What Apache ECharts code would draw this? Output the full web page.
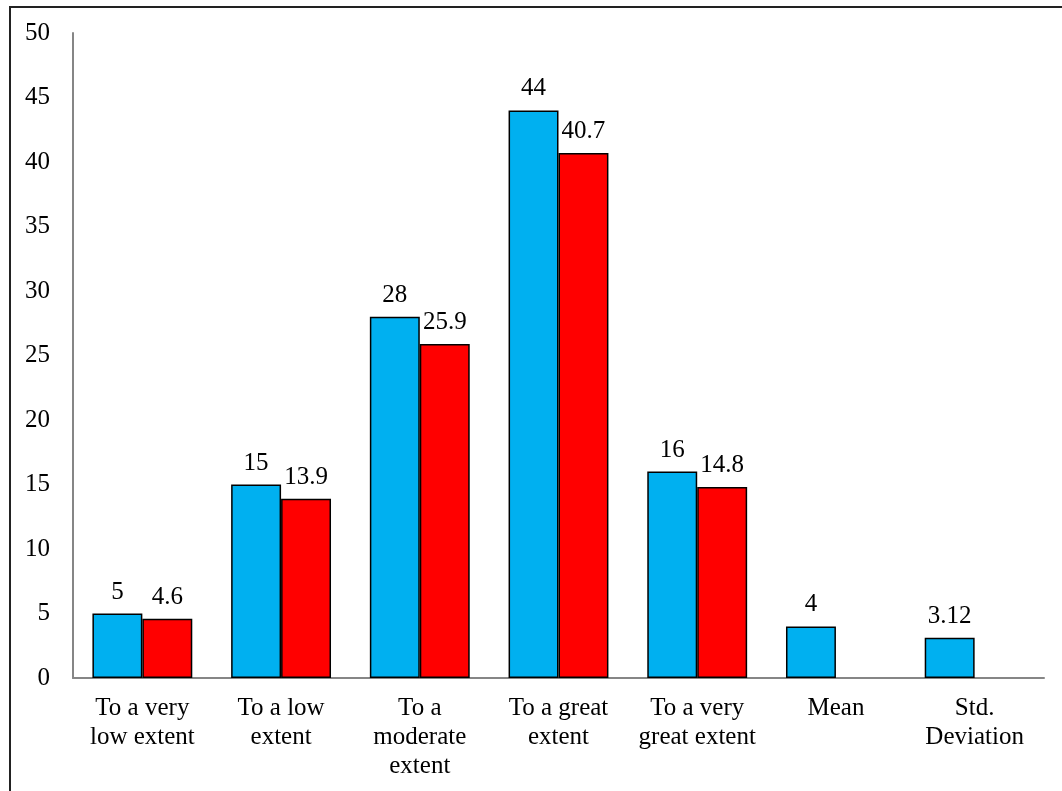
<!DOCTYPE html>
<html>
<head>
<meta charset="utf-8">
<title>Extent of responses</title>
<script src="https://cdn.jsdelivr.net/npm/echarts@6/dist/echarts.min.js"></script>
<style>
  html, body { margin: 0; padding: 0; background: #fff; }
  #chart { width: 1062px; height: 791px; }
</style>
</head>
<body>
<div id="chart"></div>
<script>
// Response categories and summary statistics
const categories = [
  'To a very\nlow extent',
  'To a low\nextent',
  'To a\nmoderate\nextent',
  'To a great\nextent',
  'To a very\ngreat extent',
  'Mean',
  'Std.\nDeviation'
];
// Frequencies (with mean and standard deviation)
const frequency = [5, 15, 28, 44, 16, 4, 3.12];
// Percentages
const percent = [4.6, 13.9, 25.9, 40.7, 14.8, null, null];
// Value axis ticks
const yMin = 0, yMax = 50, yStep = 5;

const font = '"Liberation Serif", "Times New Roman", serif';
const fontSize = 25;

const chart = echarts.init(document.getElementById('chart'), null, { renderer: 'canvas' });

const labelStyle = {
  show: true,
  position: 'top',
  distance: 9,
  color: '#000',
  fontFamily: font,
  fontSize: fontSize
};

chart.setOption({
  animation: false,
  backgroundColor: '#fff',
  graphic: [{
    type: 'polyline',
    shape: { points: [[10, 791], [10, 7], [1062, 7]] },
    style: { stroke: '#222', lineWidth: 2, fill: null }
  }],
  grid: { left: 73, right: 18, top: 33, bottom: 113 },
  xAxis: {
    type: 'category',
    data: categories,
    axisLine: { show: true, lineStyle: { color: '#868686', width: 2 } },
    axisTick: { show: false },
    axisLabel: {
      color: '#000',
      fontFamily: font,
      fontSize: fontSize,
      lineHeight: 29,
      margin: 16,
      interval: 0
    }
  },
  yAxis: {
    type: 'value',
    min: yMin,
    max: yMax,
    interval: yStep,
    splitLine: { show: false },
    axisLine: { show: true, lineStyle: { color: '#868686', width: 2 } },
    axisTick: { show: false },
    axisLabel: {
      color: '#000',
      fontFamily: font,
      fontSize: fontSize,
      margin: 23
    }
  },
  series: [
    {
      name: 'Frequency',
      type: 'bar',
      data: frequency,
      barGap: '0%',
      barCategoryGap: '28%',
      itemStyle: { color: '#00B0F0', borderColor: '#000', borderWidth: 1.5 },
      label: labelStyle
    },
    {
      name: 'Percent',
      type: 'bar',
      data: percent,
      itemStyle: { color: '#FF0000', borderColor: '#000', borderWidth: 1.5 },
      label: labelStyle
    }
  ]
});
</script>
</body>
</html>
